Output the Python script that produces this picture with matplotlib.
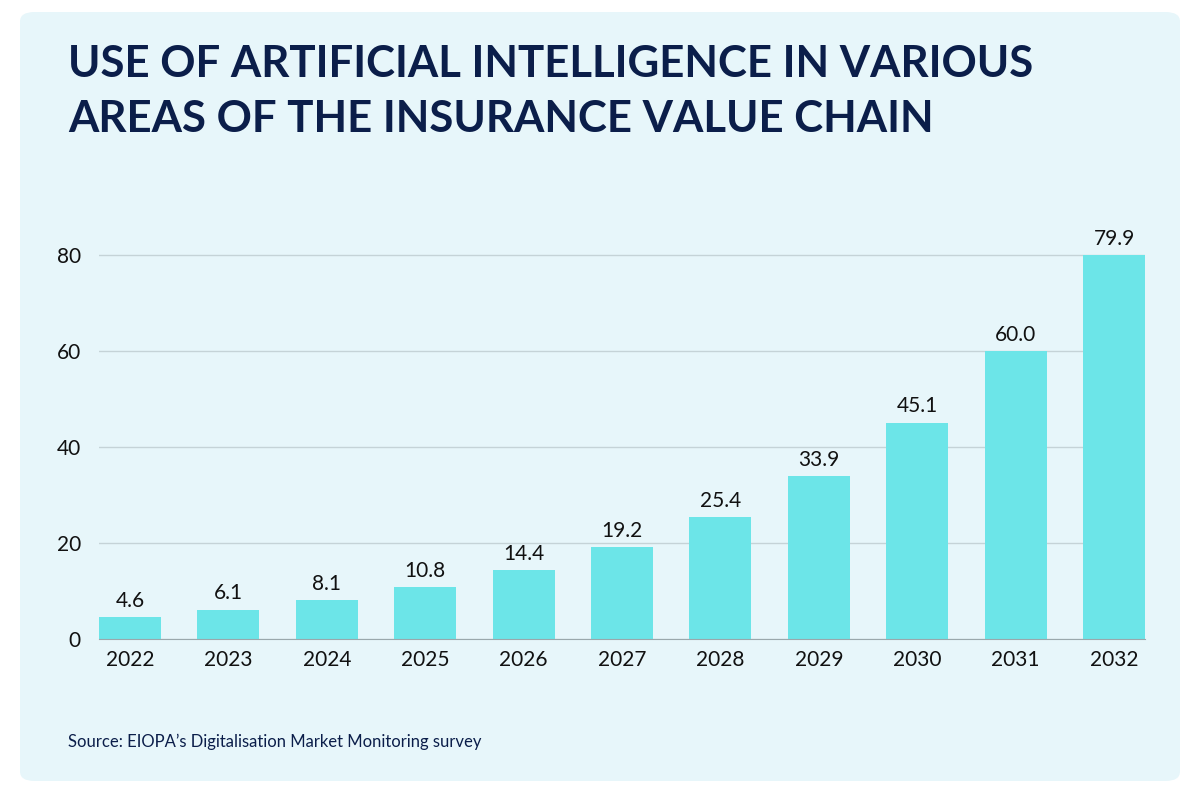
import matplotlib
matplotlib.use("Agg")
import matplotlib.pyplot as plt
from matplotlib.patches import FancyBboxPatch

years = ["2022", "2023", "2024", "2025", "2026", "2027", "2028", "2029", "2030", "2031", "2032"]
values = [4.6, 6.1, 8.1, 10.8, 14.4, 19.2, 25.4, 33.9, 45.1, 60.0, 79.9]
yticks = [0, 20, 40, 60, 80]

title = "USE OF ARTIFICIAL INTELLIGENCE IN VARIOUS\nAREAS OF THE INSURANCE VALUE CHAIN"
source = "Source: EIOPA\u2019s Digitalisation Market Monitoring survey"

NAVY = "#0B1E4A"
BAR = "#6CE5E8"
PANEL = "#E7F6FA"

plt.rcParams["font.family"] = ["Lato", "DejaVu Sans"]

fig = plt.figure(figsize=(12, 8), dpi=100)
fig.patch.set_facecolor("white")

# rounded light panel behind everything
panel = FancyBboxPatch((20 / 1200, 19 / 800), 1160 / 1200, 769 / 800,
                       boxstyle="round,pad=0,rounding_size=0.012",
                       transform=fig.transFigure, facecolor=PANEL,
                       edgecolor="none", zorder=-5)
fig.patches.append(panel)

fig.text(68 / 1200, 1 - 44 / 800, title, ha="left", va="top",
         fontsize=31.5, fontweight="bold", color=NAVY, linespacing=1.45,
         family=["Lato", "DejaVu Sans"])

ax = fig.add_axes([99 / 1200, 1 - 639 / 800, 1046 / 1200, 408 / 800])
ax.set_zorder(2)
ax.set_facecolor("none")

x = list(range(len(years)))
bars = ax.bar(x, values, width=0.63, color=BAR, zorder=3)
for xi, v in zip(x, values):
    ax.text(xi, v + 1.3, f"{v:.1f}", ha="center", va="bottom",
            fontsize=15, color="#111111", zorder=4)

ax.set_xlim(-0.315, 10.315)
ax.set_ylim(0, 85)
ax.set_yticks(yticks)
ax.set_yticklabels([str(t) for t in yticks])
ax.set_xticks(x)
ax.set_xticklabels(years)
ax.tick_params(axis="both", length=0, labelsize=15, colors="#111111")
ax.tick_params(axis="y", pad=13)
ax.tick_params(axis="x", pad=8)

ax.grid(axis="y", color="#C5D3D7", linewidth=1, zorder=1)
ax.grid(axis="x", visible=False)
for s in ["top", "right", "left"]:
    ax.spines[s].set_visible(False)
ax.spines["bottom"].set_color("#9AA8AC")
ax.spines["bottom"].set_zorder(4)

fig.text(68 / 1200, 1 - 742 / 800, source, ha="left", va="center",
         fontsize=12, color=NAVY)

fig.savefig("out.png", dpi=100, facecolor="white")
